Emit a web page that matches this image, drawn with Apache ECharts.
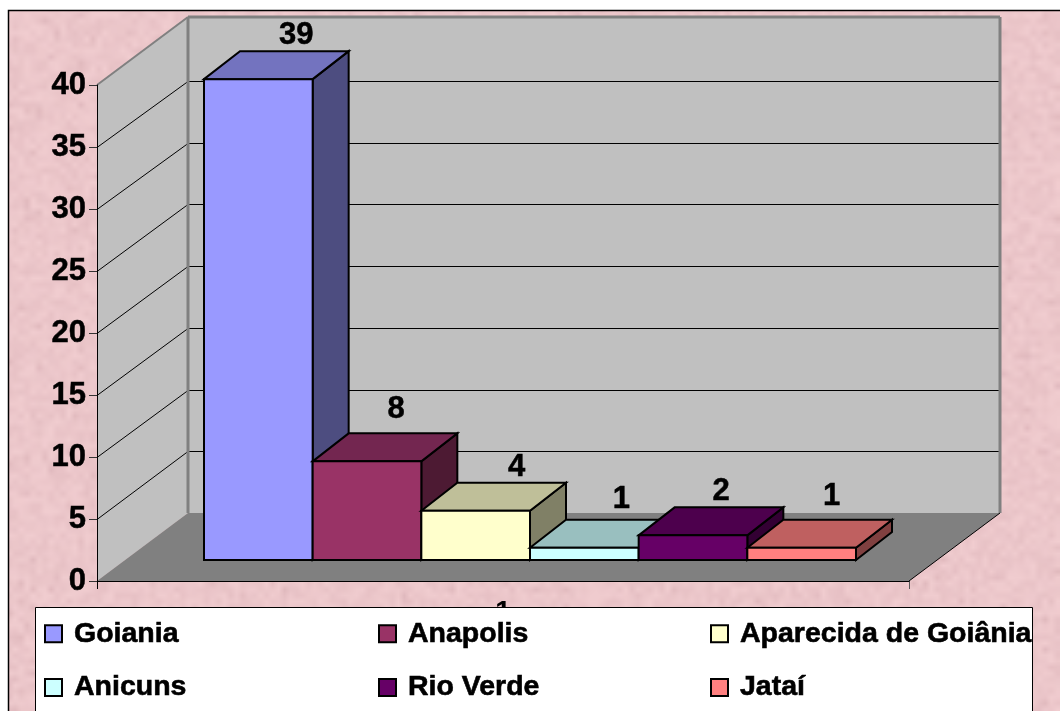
<!DOCTYPE html>
<html>
<head>
    <meta charset="utf-8">
    <title>ECharts</title>
    <script src="https://cdn.jsdelivr.net/npm/echarts@6/dist/echarts.min.js"></script>
    <style type="text/css">
        html,body{margin:0;padding:0;background:#fff;}
        #main{width:1060px;height:711px;}
    </style>
</head>
<body>
    <div id="main"></div>
    <script type="text/javascript">
        // data
        var cities = ['Goiania', 'Anapolis', 'Aparecida de Goiânia', 'Anicuns', 'Rio Verde', 'Jataí'];
        var counts = [39, 8, 4, 1, 2, 1];
        var yTicks = [0, 5, 10, 15, 20, 25, 30, 35, 40];
        var axisCategory = ['1'];

        // colours of each bar: front, top, side
        var fronts = ['#9999FF', '#993366', '#FFFFCC', '#CCFFFF', '#660066', '#FF8080'];
        var tops = ['#7373BF', '#732650', '#BFBF99', '#99BFBF', '#4D004D', '#BF6060'];
        var sides = ['#4D4D80', '#4D1A33', '#808066', '#668080', '#330033', '#804040'];

        // the value labels do not sit evenly over the bars in the picture
        var labelNudgeX = [2, -7, 5, 1, -8, -6];
        var labelNudgeY = [-17, -25, -16, -21, -17, -24];

        var FONT = '"Liberation Sans", Arial, sans-serif';
        var WALL_DX = 91, WALL_DY = -68;   // depth of the chart box
        var BAR_DX = 36, BAR_DY = -28;     // depth of one bar
        var BACK_TOP = 19;                 // where 40 would fall on the back wall

        // mottled pink paper, deterministic noise
        function paper() {
            var seed = 12345;
            function rnd() { seed = (seed * 1103515245 + 12345) & 0x7fffffff; return seed / 0x7fffffff; }
            var small = document.createElement('canvas');
            small.width = 177; small.height = 119;
            var c = small.getContext('2d');
            for (var y = 0; y < small.height; y++) {
                for (var x = 0; x < small.width; x++) {
                    var d = rnd() * 10 + (rnd() > 0.93 ? 7 : 0);
                    c.fillStyle = 'rgb(' + Math.round(241 - d) + ',' + Math.round(205 - d * 1.2) + ',' + Math.round(208 - d * 1.1) + ')';
                    c.fillRect(x, y, 1, 1);
                }
            }
            var big = document.createElement('canvas');
            big.width = 1060; big.height = 712;
            var b = big.getContext('2d');
            b.imageSmoothingEnabled = true;
            b.drawImage(small, 0, 0, 1060, 712);
            return big;
        }

        // walls, floor and gridlines, hung on the main grid
        function renderBox(params, api) {
            var g = params.coordSys;
            var left = g.x, right = g.x + g.width;
            var y0 = api.coord([0, 0])[1], y40 = api.coord([0, 40])[1];
            var backBase = y0 + WALL_DY;
            var kids = [
                {type: 'polygon', shape: {points: [[left, y40], [left + WALL_DX, y40 + WALL_DY], [left + WALL_DX, y0 + WALL_DY], [left, y0]]}, style: {fill: '#C0C0C0'}},
                {type: 'rect', shape: {x: left + WALL_DX, y: y40 + WALL_DY, width: g.width, height: y0 - y40}, style: {fill: '#C0C0C0'}},
                {type: 'polygon', shape: {points: [[left, y0], [left + WALL_DX, y0 + WALL_DY], [right + WALL_DX, y0 + WALL_DY], [right, y0]]}, style: {fill: '#808080'}}
            ];
            yTicks.forEach(function (t) {
                if (t === 0 || t === 40) return;
                var y = Math.round(api.coord([0, t])[1]) + 0.5;
                var yBack = Math.round(backBase - t * (backBase - BACK_TOP) / 40) + 0.5;
                kids.push({type: 'line', shape: {x1: left, y1: y, x2: left + WALL_DX, y2: yBack}, style: {stroke: '#000', lineWidth: 1}});
                kids.push({type: 'line', shape: {x1: left + WALL_DX, y1: yBack, x2: right + WALL_DX, y2: yBack}, style: {stroke: '#000', lineWidth: 1}});
            });
            kids.push({type: 'line', shape: {x1: left + WALL_DX, y1: y40 + WALL_DY, x2: right + WALL_DX, y2: y40 + WALL_DY}, style: {stroke: '#808080', lineWidth: 3}});
            kids.push({type: 'line', shape: {x1: left, y1: y40, x2: left + WALL_DX, y2: y40 + WALL_DY}, style: {stroke: '#808080', lineWidth: 2}});
            kids.push({type: 'line', shape: {x1: left + WALL_DX, y1: y40 + WALL_DY, x2: left + WALL_DX, y2: y0 + WALL_DY}, style: {stroke: '#808080', lineWidth: 3}});
            kids.push({type: 'line', shape: {x1: right + WALL_DX, y1: y40 + WALL_DY, x2: right + WALL_DX, y2: y0 + WALL_DY}, style: {stroke: '#808080', lineWidth: 3}});
            kids.push({type: 'line', shape: {x1: right, y1: y0, x2: right + WALL_DX, y2: y0 + WALL_DY}, style: {stroke: '#000', lineWidth: 1}});
            kids.push({type: 'line', shape: {x1: right + 0.5, y1: y0, x2: right + 0.5, y2: y0 + 8}, style: {stroke: '#555', lineWidth: 1}});
            kids.push({type: 'line', shape: {x1: left + 0.5, y1: y0, x2: left + 0.5, y2: y0 + 8}, style: {stroke: '#000', lineWidth: 1}});
            return {type: 'group', children: kids};
        }

        // one 3D bar: side, top, front, value label
        function renderBar(i) {
            return function (params, api) {
                var base = api.coord([i, 0]);
                var head = api.coord([i, api.value(1)]);
                var w = api.size([1, 0])[0];
                var x1 = base[0] - w / 2, x2 = base[0] + w / 2;
                var yb = base[1], yt = head[1];
                function st(fill) { return {fill: fill, stroke: '#000', lineWidth: 2, lineJoin: 'miter'}; }
                return {type: 'group', children: [
                    {type: 'polygon', shape: {points: [[x2, yt], [x2 + BAR_DX, yt + BAR_DY], [x2 + BAR_DX, yb + BAR_DY], [x2, yb]]}, style: st(sides[i])},
                    {type: 'polygon', shape: {points: [[x1, yt], [x1 + BAR_DX, yt + BAR_DY], [x2 + BAR_DX, yt + BAR_DY], [x2, yt]]}, style: st(tops[i])},
                    {type: 'rect', shape: {x: x1, y: yt, width: x2 - x1, height: yb - yt}, style: st(fronts[i])},
                    {type: 'text', style: {
                        text: String(api.value(1)),
                        x: base[0] + BAR_DX + labelNudgeX[i],
                        y: yt + BAR_DY + labelNudgeY[i] + 1,
                        align: 'center', verticalAlign: 'middle',
                        font: 'bold 31px ' + FONT, fill: '#000', stroke: '#000', lineWidth: 0.5
                    }}
                ]};
            };
        }

        var series = [{
            type: 'custom', name: 'box', xAxisIndex: 0, yAxisIndex: 0, z: 1,
            renderItem: renderBox, data: [[0, 0]], silent: true, clip: false
        }];
        cities.forEach(function (name, i) {
            series.push({
                type: 'custom', name: name, xAxisIndex: 1, yAxisIndex: 1, z: 3 + i,
                itemStyle: {color: fronts[i]},
                renderItem: renderBar(i), data: [[i, counts[i]]], silent: true, clip: false
            });
        });

        function legendCol(left, names) {
            return {
                left: left, top: 614, orient: 'vertical', z: 60, icon: 'rect',
                itemWidth: 17, itemHeight: 17, itemGap: 24, selectedMode: false,
                data: names,
                itemStyle: {borderColor: '#000', borderWidth: 2},
                textStyle: {fontFamily: FONT, fontWeight: 'bold', fontSize: 28.5, lineHeight: 28, color: '#000', textBorderColor: '#000', textBorderWidth: 0.6, padding: [0, 0, 0, 7]}
            };
        }

        var myChart = echarts.init(document.getElementById('main'), null, {renderer: 'canvas'});
        var option = {
            animation: false,
            backgroundColor: '#fff',
            grid: [
                {left: 97, top: 85, width: 812, height: 496},
                {left: 204, top: 66.8, width: 652, height: 493.2}   // bars stand further back on the floor
            ],
            xAxis: [
                {type: 'category', gridIndex: 0, data: axisCategory, z: 2,
                    axisLine: {lineStyle: {color: '#000', width: 1}}, axisTick: {show: false},
                    axisLabel: {margin: 17, color: '#000', fontFamily: FONT, fontWeight: 'bold', fontSize: 28}},
                {type: 'category', gridIndex: 1, data: cities, show: false}
            ],
            yAxis: [
                {type: 'value', gridIndex: 0, min: 0, max: 40, interval: 5, z: 2,
                    axisLine: {show: true, lineStyle: {color: '#000', width: 1}},
                    axisTick: {show: true, length: 8, lineStyle: {color: '#333', width: 1}},
                    splitLine: {show: false},
                    axisLabel: {margin: 11, color: '#000', fontFamily: FONT, fontWeight: 'bold', fontSize: 31, textBorderColor: '#000', textBorderWidth: 0.5}},
                {type: 'value', gridIndex: 1, min: 0, max: 40, show: false, splitLine: {show: false}}
            ],
            legend: [
                legendCol(39, [cities[0], cities[3]]),
                legendCol(373, [cities[1], cities[4]]),
                legendCol(705, [cities[2], cities[5]])
            ],
            graphic: [
                {type: 'rect', z: -10, silent: true, shape: {x: 8.5, y: 10.5, width: 1060, height: 720},
                    style: {fill: {image: paper(), repeat: 'repeat'}, stroke: '#000', lineWidth: 1.5}},
                {type: 'rect', z: 50, silent: true, shape: {x: 35.5, y: 607.5, width: 997, height: 120},
                    style: {fill: '#fff', stroke: '#000', lineWidth: 1}}
            ],
            series: series
        };
        myChart.setOption(option);
    </script>
</body>
</html>
